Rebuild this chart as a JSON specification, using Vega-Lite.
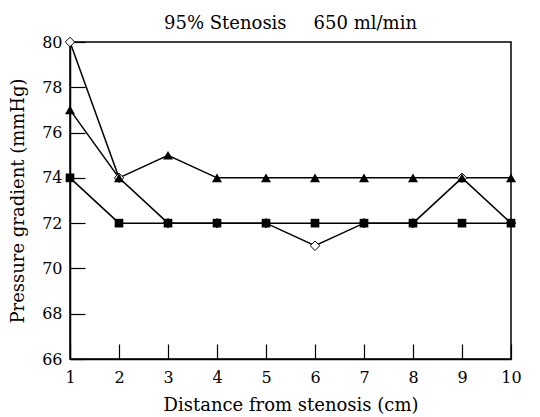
{
  "$schema": "https://vega.github.io/schema/vega-lite/v6.json",
  "autosize": "none",
  "width": 441,
  "height": 317,
  "padding": {"left": 70, "top": 42, "right": 29, "bottom": 58},
  "background": "white",
  "title": {"text": "95% Stenosis\u2003\u2002650 ml/min"},
  "config": {
    "title": {"font": "DejaVu Serif", "fontSize": 18, "fontWeight": "normal", "color": "black", "offset": 1, "frame": "group", "anchor": "middle"},
    "view": {"stroke": "black", "strokeWidth": 1.5},
    "axis": {
      "domainColor": "black", "domainWidth": 1.5, "tickColor": "black", "tickWidth": 1.2,
      "tickSize": -15, "labelFont": "DejaVu Serif", "labelFontSize": 16, "labelColor": "black",
      "titleFont": "DejaVu Serif", "titleFontSize": 18, "titleFontWeight": "normal", "titleColor": "black",
      "grid": false, "labelFlush": false, "labelOverlap": false
    }
  },
  "data": {"values": [
    {"d": 1, "p": 80, "s": "diamond"}, {"d": 2, "p": 74, "s": "diamond"}, {"d": 3, "p": 72, "s": "diamond"}, {"d": 4, "p": 72, "s": "diamond"}, {"d": 5, "p": 72, "s": "diamond"}, {"d": 6, "p": 71, "s": "diamond"}, {"d": 7, "p": 72, "s": "diamond"}, {"d": 8, "p": 72, "s": "diamond"}, {"d": 9, "p": 74, "s": "diamond"}, {"d": 10, "p": 72, "s": "diamond"},
    {"d": 1, "p": 77, "s": "triangle"}, {"d": 2, "p": 74, "s": "triangle"}, {"d": 3, "p": 75, "s": "triangle"}, {"d": 4, "p": 74, "s": "triangle"}, {"d": 5, "p": 74, "s": "triangle"}, {"d": 6, "p": 74, "s": "triangle"}, {"d": 7, "p": 74, "s": "triangle"}, {"d": 8, "p": 74, "s": "triangle"}, {"d": 9, "p": 74, "s": "triangle"}, {"d": 10, "p": 74, "s": "triangle"},
    {"d": 1, "p": 74, "s": "square"}, {"d": 2, "p": 72, "s": "square"}, {"d": 3, "p": 72, "s": "square"}, {"d": 4, "p": 72, "s": "square"}, {"d": 5, "p": 72, "s": "square"}, {"d": 6, "p": 72, "s": "square"}, {"d": 7, "p": 72, "s": "square"}, {"d": 8, "p": 72, "s": "square"}, {"d": 9, "p": 72, "s": "square"}, {"d": 10, "p": 72, "s": "square"}
  ]},
  "encoding": {
    "x": {"field": "d", "type": "quantitative", "scale": {"domain": [1, 10], "nice": false, "zero": false},
      "axis": {"title": "Distance from stenosis (cm)", "values": [1,2,3,4,5,6,7,8,9,10], "labelPadding": 25, "titlePadding": 11}},
    "y": {"field": "p", "type": "quantitative", "scale": {"domain": [66, 80], "nice": false, "zero": false},
      "axis": {"title": "Pressure gradient (mmHg)", "values": [66,68,70,72,74,76,78,80], "labelPadding": 23, "titlePadding": 14}}
  },
  "layer": [
    {"mark": {"type": "line", "color": "black", "strokeWidth": 1.5}, "encoding": {"detail": {"field": "s"}}},
    {"transform": [{"filter": "datum.s == 'diamond'"}], "mark": {"type": "point", "shape": "diamond", "filled": true, "fill": "white", "stroke": "black", "strokeWidth": 1, "size": 90, "opacity": 1}},
    {"transform": [{"filter": "datum.s == 'triangle'"}], "mark": {"type": "point", "shape": "triangle-up", "filled": true, "color": "black", "size": 100, "opacity": 1}},
    {"transform": [{"filter": "datum.s == 'square'"}], "mark": {"type": "point", "shape": "square", "filled": true, "color": "black", "size": 75, "opacity": 1}}
  ]
}
